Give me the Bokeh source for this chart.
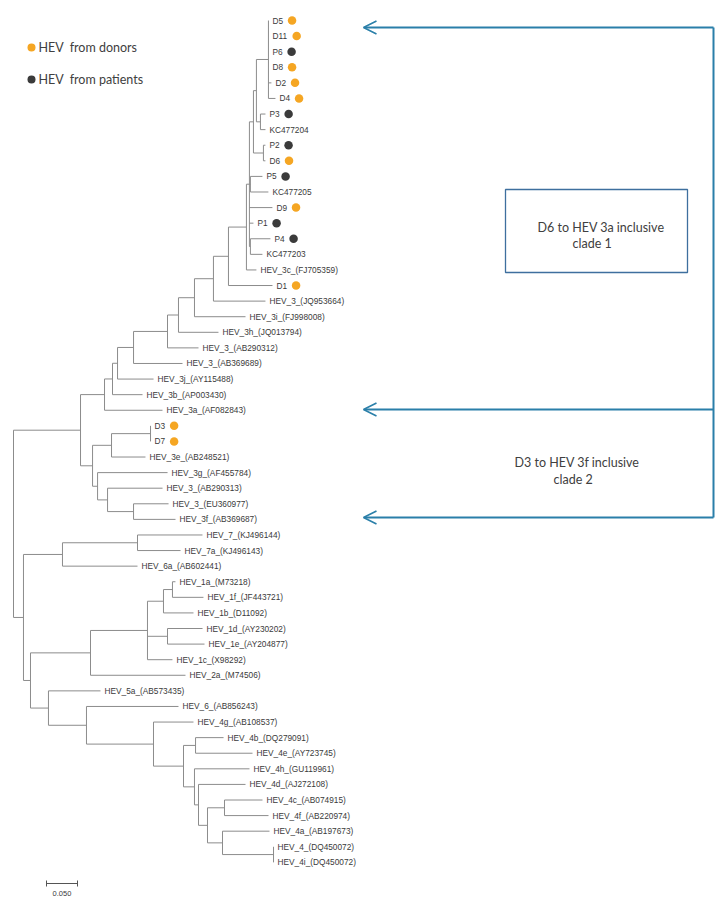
from bokeh.plotting import figure
from bokeh.models import Range1d, ColumnDataSource, Arrow, OpenHead
from bokeh.core.properties import value
from bokeh.embed import file_html
from bokeh.resources import INLINE

# ---------------- data: tree in preorder (name, parent, branch length) ----------------
node_names = [
    "root", "g3", "n3a", "nb", "n117", "n133", "n167", "n178", "n194", "n213", "n228",
    "na", "nb2", "n252", "n256", "dcl",
    "D5", "D11", "P6", "D8", "D2", "D4",
    "p3n", "P3", "KC477204",
    "p2n", "P2", "D6",
    "p5n", "P5", "KC477205",
    "D9", "P1",
    "p4n", "P4", "KC477203",
    "HEV_3c_(FJ705359)", "D1", "HEV_3_(JQ953664)", "HEV_3i_(FJ998008)", "HEV_3h_(JQ013794)",
    "HEV_3_(AB290312)", "HEV_3_(AB369689)", "HEV_3j_(AY115488)", "HEV_3b_(AP003430)",
    "HEV_3a_(AF082843)",
    "c2", "n111", "n150", "D3", "D7", "HEV_3e_(AB248521)",
    "n97", "HEV_3g_(AF455784)", "n107", "HEV_3_(AB290313)", "n133b",
    "HEV_3_(EU360977)", "HEV_3f_(AB369687)",
    "a", "b", "n137", "HEV_7_(KJ496144)", "HEV_7a_(KJ496143)", "HEV_6a_(AB602441)",
    "c", "d", "e", "f", "h", "HEV_1a_(M73218)", "HEV_1f_(JF443721)", "HEV_1b_(D11092)",
    "g", "HEV_1d_(AY230202)", "HEV_1e_(AY204877)", "HEV_1c_(X98292)", "HEV_2a_(M74506)",
    "i", "HEV_5a_(AB573435)", "j", "HEV_6_(AB856243)", "k", "HEV_4g_(AB108537)",
    "l", "m", "HEV_4b_(DQ279091)", "HEV_4e_(AY723745)",
    "n", "HEV_4h_(GU119961)", "o", "HEV_4d_(AJ272108)", "p",
    "q", "HEV_4c_(AB074915)", "HEV_4f_(AB220974)",
    "r", "HEV_4a_(AB197673)", "s", "HEV_4_(DQ450072)", "HEV_4i_(DQ450072)",
]
node_parents = [
    None, "root", "g3", "n3a", "nb", "n117", "n133", "n167", "n178", "n194", "n213",
    "n228", "na", "nb2", "n252", "n256",
    "dcl", "dcl", "dcl", "dcl", "dcl", "dcl",
    "n256", "p3n", "p3n",
    "n252", "p2n", "p2n",
    "nb2", "p5n", "p5n",
    "nb2", "nb2",
    "nb2", "p4n", "p4n",
    "na", "n228", "n213", "n194", "n178",
    "n167", "n133", "n117", "nb",
    "n3a",
    "g3", "c2", "n111", "n150", "n150", "n111",
    "c2", "n97", "n97", "n107", "n107",
    "n133b", "n133b",
    "root", "a", "b", "n137", "n137", "b",
    "a", "c", "d", "e", "f", "h", "h", "f",
    "e", "g", "g", "e", "d",
    "c", "i", "i", "j", "j", "k",
    "k", "l", "m", "m",
    "l", "n", "n", "o", "o",
    "p", "q", "q",
    "p", "r", "r", "s", "s",
]
branch_lengths = [
    0.0, 0.1081, 0.0387, 0.0129, 0.0081, 0.0258, 0.0548, 0.0177, 0.0258, 0.0306, 0.0242,
    0.0290, 0.0048, 0.0065, 0.0048, 0.0194,
    0.0, 0.0, 0.0, 0.0, 0.0048, 0.0113,
    0.0065, 0.0081, 0.0081,
    0.0161, 0.0032, 0.0032,
    0.0016, 0.0194, 0.0290,
    0.0371, 0.0065,
    0.0016, 0.0323, 0.0194,
    0.0161, 0.0710, 0.0839, 0.0823, 0.0645,
    0.0500, 0.0790, 0.0581, 0.0484,
    0.0935,
    0.0194, 0.0306, 0.0629, 0.0, 0.0, 0.0548,
    0.0081, 0.1129, 0.0161, 0.0887, 0.0419,
    0.0565, 0.0677,
    0.0161, 0.0629, 0.1210, 0.1048, 0.0694, 0.1210,
    0.0113, 0.0968, 0.0919, 0.0258, 0.0145, 0.0048, 0.0500, 0.0484,
    0.0323, 0.0565, 0.0597, 0.0403, 0.1532,
    0.0290, 0.0839, 0.0613, 0.1484, 0.1081, 0.0645,
    0.0484, 0.0194, 0.0452, 0.0919,
    0.0177, 0.0887, 0.0065, 0.0758, 0.0145,
    0.0274, 0.0613, 0.0710,
    0.0242, 0.0758, 0.0823, 0.0, 0.0,
]

donor_samples = ["D5", "D11", "D8", "D2", "D4", "D6", "D9", "D1", "D3", "D7"]
patient_samples = ["P6", "P3", "P2", "P5", "P1", "P4"]
legend_labels = ["HEV\u00a0 from donors", "HEV\u00a0 from patients"]
clade1_note = ["D6 to HEV 3a inclusive", "clade 1"]
clade2_note = ["D3 to HEV 3f inclusive", "clade 2"]
scale_bar_length = 0.05
scale_bar_label = "0.050"

# ---------------- layout ----------------
W, H = 725, 904
PX = 620.0          # pixels per substitution unit
ROW = 15.59         # pixels per leaf row
X0, Y0 = 13, 20     # pixel position of root / first leaf
FS = 8.3            # tip label font size (px)

def rx(xpix):       # page x pixel -> data x
    return (xpix - X0) / PX

def ry(ypix):       # page y pixel -> data y (leaf index)
    return (ypix - Y0) / ROW

children = {n: [] for n in node_names}
for n, par in zip(node_names, node_parents):
    if par is not None:
        children[par].append(n)
depth = {}
for n, par, bl in zip(node_names, node_parents, branch_lengths):
    depth[n] = 0.0 if par is None else depth[par] + bl
leaves = [n for n in node_names if not children[n]]
ypos = {n: float(i) for i, n in enumerate(leaves)}
for n in reversed(node_names):
    if children[n]:
        ypos[n] = (ypos[children[n][0]] + ypos[children[n][-1]]) / 2

x0, y0, x1, y1 = [], [], [], []
for n, par in zip(node_names, node_parents):
    if par is not None:
        x0.append(depth[par]); x1.append(depth[n]); y0.append(ypos[n]); y1.append(ypos[n])
    if children[n]:
        x0.append(depth[n]); x1.append(depth[n])
        y0.append(ypos[children[n][0]]); y1.append(ypos[children[n][-1]])

p = figure(width=W, height=H, output_backend="svg", toolbar_location=None,
           x_range=Range1d(rx(0), rx(W)),
           y_range=Range1d(ry(H), ry(0)),
           min_border=0, outline_line_color=None, background_fill_color="white")
p.xaxis.visible = False
p.yaxis.visible = False
p.grid.visible = False

TREE = "#8c8c8c"
TXT = "#3a3a3a"
ORANGE = "#F5A623"
DARK = "#3b3b3b"
BLUE = "#2A7FA9"
BOX = "#3E6F9E"

p.segment(x0=x0, y0=y0, x1=x1, y1=y1, line_color=TREE, line_width=1)

leaf_src = ColumnDataSource(dict(x=[depth[n] for n in leaves], y=[ypos[n] for n in leaves], t=leaves))
p.text(x="x", y="y", text="t", source=leaf_src, x_offset=4, text_baseline="middle",
       text_font=value("Liberation Sans"), text_font_size=f"{FS}px", text_color=TXT)

CW = {"D": 0.722, "P": 0.667}
def label_width(s):
    return FS * sum(CW.get(c, 0.556) for c in s)

def dot_x(n):
    return depth[n] + (4 + label_width(n) + 9) / PX

p.scatter([dot_x(n) for n in donor_samples], [ypos[n] for n in donor_samples],
          size=8.5, color=ORANGE, line_color=None)
p.scatter([dot_x(n) for n in patient_samples], [ypos[n] for n in patient_samples],
          size=8.5, color=DARK, line_color=None)

# legend
p.scatter([rx(31)], [ry(47)], size=8, color=ORANGE, line_color=None)
p.scatter([rx(31)], [ry(79)], size=8, color=DARK, line_color=None)
p.text(x=[rx(38), rx(38)], y=[ry(47), ry(79)], text=legend_labels, text_baseline="middle",
       text_font=value("Lato"), text_font_size="12.5px", text_color="#404040")

# scale bar
sx = rx(46)
p.segment(x0=[sx, sx, sx + scale_bar_length], y0=[ry(883), ry(880), ry(880)],
          x1=[sx + scale_bar_length, sx, sx + scale_bar_length], y1=[ry(883), ry(886), ry(886)],
          line_color="#555555", line_width=1)
p.text(x=[sx + scale_bar_length / 2], y=[ry(893)], text=[scale_bar_label], text_align="center",
       text_baseline="middle", text_font=value("Liberation Sans"), text_font_size="7.5px", text_color=TXT)

# clade brackets and arrows
vx = rx(713)
for yy in (27, 409, 517):
    p.add_layout(Arrow(end=OpenHead(size=13, line_color=BLUE, line_width=1.6),
                       x_start=vx, y_start=ry(yy), x_end=rx(363), y_end=ry(yy),
                       line_color=BLUE, line_width=2))
p.segment(x0=[vx], y0=[ry(27)], x1=[vx], y1=[ry(517)], line_color=BLUE, line_width=2)

p.quad(left=[rx(505)], right=[rx(687)], top=[ry(189)], bottom=[ry(272)],
       fill_color=None, line_color=BOX, line_width=1.3)
p.text(x=[rx(537), rx(572)], y=[ry(227), ry(243)], text=clade1_note, text_baseline="middle",
       text_font=value("Lato"), text_font_size="12.5px", text_color="#404040")
p.text(x=[rx(514), rx(553)], y=[ry(462), ry(479)], text=clade2_note, text_baseline="middle",
       text_font=value("Lato"), text_font_size="12.5px", text_color="#404040")

open("out.html", "w").write(file_html(p, INLINE))
